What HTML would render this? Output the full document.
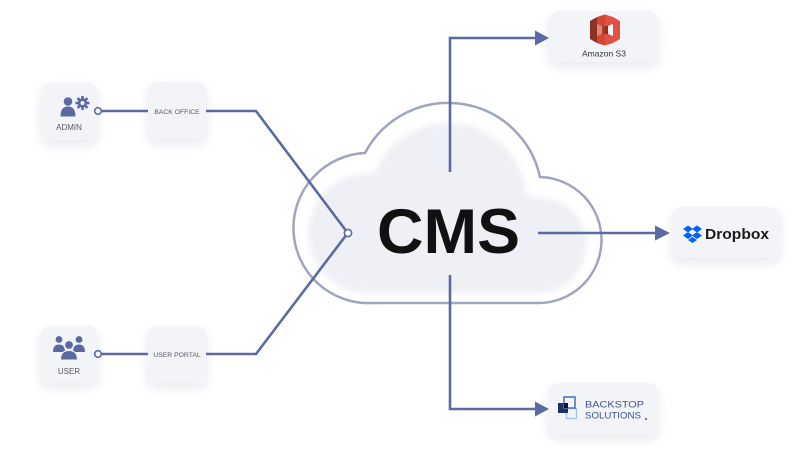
<!DOCTYPE html>
<html>
<head>
<meta charset="utf-8">
<style>
  html,body{margin:0;padding:0;background:#ffffff;}
  body{width:800px;height:450px;overflow:hidden;}
  svg{display:block;}
  text{font-family:"Liberation Sans",Arial,sans-serif;}
</style>
</head>
<body>
<svg width="800" height="450" viewBox="0 0 800 450" xmlns="http://www.w3.org/2000/svg">
  <defs>
    <filter id="sh" x="-40%" y="-40%" width="180%" height="200%">
      <feDropShadow dx="0" dy="5" stdDeviation="5" flood-color="#27325a" flood-opacity="0.10"/>
    </filter>
    <filter id="blur" x="-20%" y="-20%" width="140%" height="140%">
      <feGaussianBlur stdDeviation="3"/>
    </filter>
    <clipPath id="cc">
      <path d="M372 303 A75 75 0 0 1 365 153 A94 94 0 0 1 540 177 A63 63 0 0 1 537 303 Z"/>
    </clipPath>
  </defs>

  <!-- Cloud -->
  <g clip-path="url(#cc)">
    <rect x="280" y="90" width="340" height="230" fill="#eff0f5"/>
    <path d="M372 303 A75 75 0 0 1 365 153 A94 94 0 0 1 540 177 A63 63 0 0 1 537 303 Z" transform="translate(0,5)" fill="none" stroke="#ffffff" stroke-width="30" filter="url(#blur)"/>
  </g>
  <path d="M372 303 A75 75 0 0 1 365 153 A94 94 0 0 1 540 177 A63 63 0 0 1 537 303 Z" fill="none" stroke="#9ea6be" stroke-width="2.5"/>

  <!-- Boxes -->
  <g filter="url(#sh)" fill="#f3f4f8">
    <rect x="41" y="83" width="56" height="57" rx="9"/>
    <rect x="148" y="82" width="58" height="57" rx="9"/>
    <rect x="41" y="326" width="56" height="57" rx="9"/>
    <rect x="148" y="326" width="58" height="57" rx="9"/>
    <rect x="549" y="11" width="109" height="51" rx="10"/>
    <rect x="672" y="207" width="108" height="51" rx="10"/>
    <rect x="549" y="383" width="109" height="52" rx="10"/>
  </g>

  <!-- Connectors -->
  <g stroke="#5b6aa1" stroke-width="2.6" fill="none" stroke-linejoin="miter">
    <line x1="101" y1="111" x2="148" y2="111"/>
    <polyline points="206,111 256,111 345.5,230"/>
    <line x1="101" y1="354" x2="148" y2="354"/>
    <polyline points="206,354 256,354 345.5,236"/>
    <polyline points="450,172 450,38 537,38"/>
    <line x1="538" y1="233" x2="657" y2="233"/>
    <polyline points="450,275 450,409 537,409"/>
  </g>
  <g fill="#5b6aa1">
    <polygon points="535,30.5 549,38 535,45.5"/>
    <polygon points="655,225.5 670,233 655,240.5"/>
    <polygon points="535,401.5 549,409 535,416.5"/>
  </g>
  <g fill="#ffffff" stroke="#5b6aa1" stroke-width="1.6">
    <circle cx="98" cy="111" r="3.3"/>
    <circle cx="98" cy="354" r="3.3"/>
    <circle cx="348" cy="233" r="3.6"/>
  </g>

  <!-- Admin icon -->
  <g fill="#5a69a0">
    <circle cx="68" cy="101.5" r="4.3"/>
    <path d="M60.5 116.5 Q60.5 106.5 68 106.5 Q75.5 106.5 75.5 116.5 Z"/>
    <g transform="translate(82.5,103)">
      <circle r="4.6"/>
      <rect x="-1.3" y="-7" width="2.6" height="14"/>
      <rect x="-7" y="-1.3" width="14" height="2.6"/>
      <rect x="-1.3" y="-7" width="2.6" height="14" transform="rotate(45)"/>
      <rect x="-1.3" y="-7" width="2.6" height="14" transform="rotate(-45)"/>
      <circle r="2" fill="#f3f4f8"/>
    </g>
  </g>
  <text x="69" y="130" font-size="8" fill="#555a66" text-anchor="middle">ADMIN</text>
  <text x="177" y="114" font-size="6.8" fill="#555a66" text-anchor="middle">BACK OFFICE</text>

  <!-- User icon -->
  <g fill="#5a69a0">
    <circle cx="59" cy="339.5" r="3.4"/>
    <circle cx="79" cy="339.5" r="3.4"/>
    <path d="M53 352 Q53 344.5 59 344.5 Q65 344.5 65 352 Z"/>
    <path d="M73 352 Q73 344.5 79 344.5 Q85 344.5 85 352 Z"/>
    <circle cx="69" cy="345" r="4.4" stroke="#f3f4f8" stroke-width="1"/>
    <path d="M60.5 360 Q60.5 350.5 69 350.5 Q77.5 350.5 77.5 360 Z" stroke="#f3f4f8" stroke-width="1"/>
  </g>
  <text x="69" y="374" font-size="8" fill="#555a66" text-anchor="middle">USER</text>
  <text x="177" y="357" font-size="6.8" fill="#555a66" text-anchor="middle">USER PORTAL</text>

  <!-- CMS -->
  <text x="377" y="253" font-size="63" font-weight="bold" fill="#111111" textLength="143" lengthAdjust="spacingAndGlyphs">CMS</text>

  <!-- Amazon S3 -->
  <g>
    <polygon points="590,21 597,17 597,43 590,39" fill="#8c3123"/>
    <polygon points="620,21 613,17 613,43 620,39" fill="#e05243"/>
    <polygon points="597,17 605,14.5 613,17 613,24 608,26 608,34 613,36 613,43 605,45.5 597,43 597,36 602,34 602,26 597,24" fill="#e05243"/>
    <rect x="602" y="26" width="6" height="8" fill="#8c3123"/>
    <polygon points="597,17 605,14.5 605,45.5 597,43" fill="#c9402f" opacity="0.6"/>
  </g>
  <text x="604" y="56.5" font-size="8.5" fill="#333333" text-anchor="middle">Amazon S3</text>

  <!-- Dropbox -->
  <g fill="#0061fe">
    <polygon points="683,229 688,225.5 693,229 688,232.5"/>
    <polygon points="692,229 697,225.5 702,229 697,232.5"/>
    <polygon points="683,235.5 688,232 693,235.5 688,239"/>
    <polygon points="692,235.5 697,232 702,235.5 697,239"/>
    <polygon points="688,240 692.5,237 697,240 692.5,243"/>
  </g>
  <text x="705" y="239" font-size="15" font-weight="bold" fill="#1e1919" textLength="64" lengthAdjust="spacingAndGlyphs">Dropbox</text>

  <!-- Backstop -->
  <g>
    <rect x="566.5" y="408.5" width="10" height="10" fill="none" stroke="#a9c3e8" stroke-width="1.4"/>
    <rect x="558" y="403" width="10" height="10" fill="#1f3169"/>
    <rect x="564" y="397" width="11" height="11" fill="none" stroke="#4f79b8" stroke-width="1.6"/>
    <rect x="564" y="403" width="4" height="5" fill="#0d1530"/>
  </g>
  <text x="585" y="407.5" font-size="9.6" fill="#3f5191" textLength="59" lengthAdjust="spacingAndGlyphs">BACKSTOP</text>
  <text x="585" y="418.5" font-size="9.6" fill="#3f5191" textLength="56" lengthAdjust="spacingAndGlyphs">SOLUTIONS</text>
  <circle cx="646" cy="419" r="1" fill="#3f5191"/>
</svg>
</body>
</html>
